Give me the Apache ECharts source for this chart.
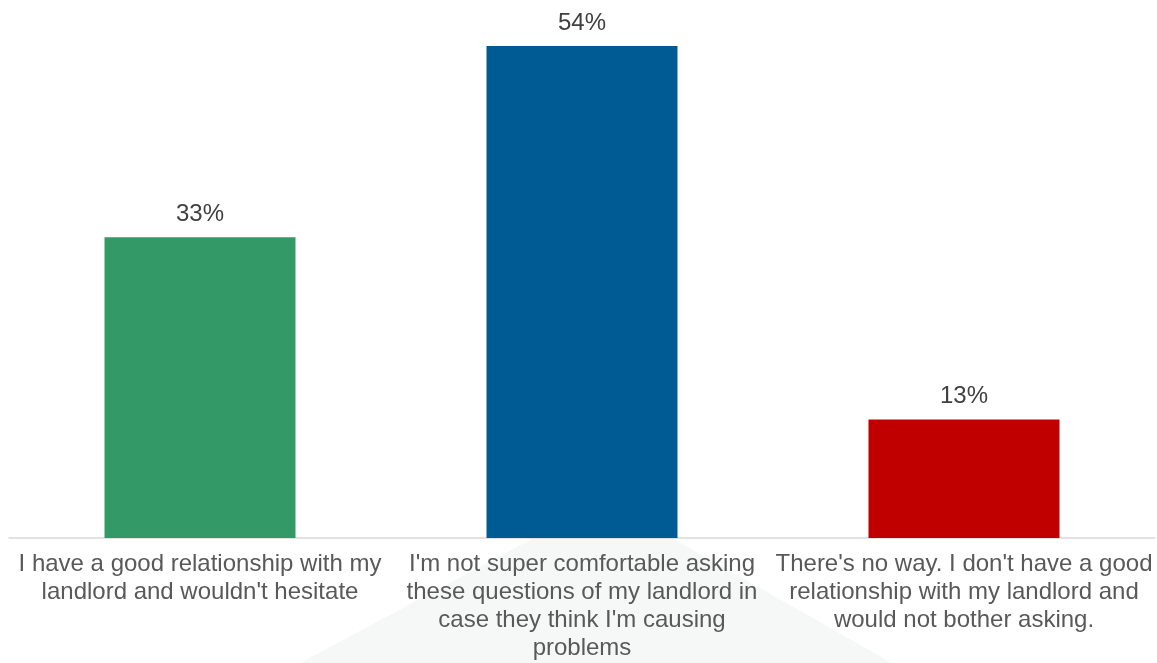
<!DOCTYPE html>
<html>
<head>
<meta charset="utf-8">
<style>
  html, body { margin: 0; padding: 0; background: #ffffff; }
  #chart { width: 1157px; height: 663px; }
</style>
<script src="https://cdn.jsdelivr.net/npm/echarts@6/dist/echarts.min.js"></script>
</head>
<body>
<div id="chart"></div>
<script>
// Survey answers (percent of respondents)
const categories = [
  "I have a good relationship with my\nlandlord and wouldn't hesitate",
  "I'm not super comfortable asking\nthese questions of my landlord in\ncase they think I'm causing\nproblems",
  "There's no way. I don't have a good\nrelationship with my landlord and\nwould not bother asking."
];
const values = [33, 54, 13];
const barColors = ['#339966', '#005A94', '#C00000'];

const chart = echarts.init(document.getElementById('chart'), null, { renderer: 'canvas' });

chart.setOption({
  animation: false,
  backgroundColor: '#ffffff',
  textStyle: { fontFamily: '"Liberation Sans", Arial, sans-serif' },
  // faint decorative triangle behind the lower labels
  graphic: [{
    type: 'polygon',
    z: -10,
    silent: true,
    shape: { points: [[300, 663], [605, 500], [892, 663]] },
    style: { fill: '#f6f7f7' }
  }],
  grid: { left: 9, right: 2, top: 46, bottom: 125, containLabel: false },
  xAxis: {
    type: 'category',
    data: categories,
    axisLine: { show: true, lineStyle: { color: '#d9d9d9', width: 1.5 } },
    axisTick: { show: false },
    axisLabel: {
      interval: 0,
      margin: 12,
      color: '#595959',
      fontSize: 24,
      lineHeight: 28,
      fontFamily: '"Liberation Sans", Arial, sans-serif',
      align: 'center'
    }
  },
  yAxis: {
    type: 'value',
    min: 0,
    max: 54,
    show: false,
    splitLine: { show: false }
  },
  series: [{
    type: 'bar',
    barWidth: '50%',
    data: values.map((v, i) => ({ value: v, itemStyle: { color: barColors[i] } })),
    label: {
      show: true,
      position: 'top',
      distance: 11,
      formatter: p => p.value + '%',
      color: '#404040',
      fontSize: 24,
      fontFamily: '"Liberation Sans", Arial, sans-serif'
    }
  }]
});
</script>
</body>
</html>
